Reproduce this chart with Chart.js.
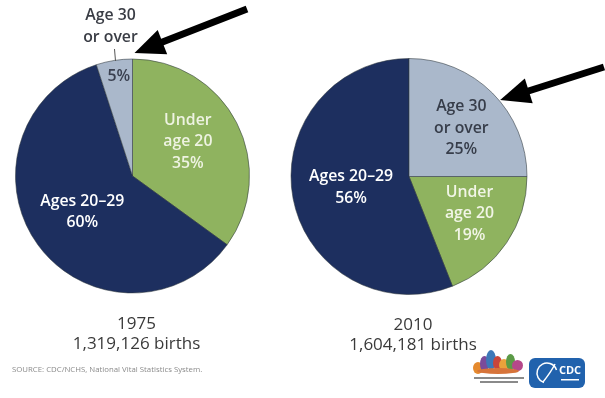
<!DOCTYPE html>
<html>
<head>
<meta charset="utf-8">
<script src="https://cdn.jsdelivr.net/npm/chart.js@4"></script>
<style>
  html, body { margin: 0; padding: 0; background: #ffffff; }
  #wrap { position: relative; width: 605px; height: 398px; overflow: hidden; }
  #wrap canvas { position: absolute; left: 0; top: 0; }
</style>
</head>
<body>
<div id="wrap">
  <canvas id="pie1975" width="605" height="398"></canvas>
  <canvas id="pie2010" width="605" height="398"></canvas>
</div>
<script>
// Births by age of mother, share of all births (%)
const ageGroups = ['Under age 20', 'Ages 20–29', 'Age 30 or over'];
const groupLines = [['Under', 'age 20'], ['Ages 20–29'], ['Age 30', 'or over']];
const share1975 = [35, 60, 5];
const share2010 = [19, 56, 25];
const years = ['1975', '2010'];
const totalBirths = [1319126, 1604181];
const sourceNote = 'SOURCE: CDC/NCHS, National Vital Statistics System.';

const sliceColors = ['#8fb35f', '#1d2f5f', '#aab8cb'];
const FONT = '"Open Sans", "Noto Sans", sans-serif';
const LABEL_FONT = '600 15.8px ' + FONT;

function fmtCount(n) { return n.toLocaleString('en-US'); }

// Places slice labels along each slice's mid-angle.
// place[i] = [radius fraction, dx, dy, colour, showName]
function sliceLabelPlugin(id, place, outside) {
  return {
    id: id,
    afterDatasetsDraw(chart) {
      const ctx = chart.ctx;
      const meta = chart.getDatasetMeta(0);
      const values = chart.data.datasets[0].data;
      ctx.save();
      ctx.textAlign = 'center';
      ctx.textBaseline = 'middle';
      meta.data.forEach((arc, i) => {
        const p = place[i];
        const mid = (arc.startAngle + arc.endAngle) / 2;
        const r = arc.outerRadius * p[0];
        const cx = arc.x + Math.cos(mid) * r + p[1];
        const cy = arc.y + Math.sin(mid) * r + p[2];
        const lines = p[4] ? groupLines[i].concat([values[i] + '%']) : [values[i] + '%'];
        const lh = 21.5;
        ctx.fillStyle = p[3];
        ctx.font = LABEL_FONT;
        lines.forEach((t, k) => {
          ctx.fillText(t, cx, cy + (k - (lines.length - 1) / 2) * lh);
        });
      });
      if (outside) outside(chart, ctx, meta);
      ctx.restore();
    }
  };
}

function drawCaption(ctx, arc, yearIdx) {
  ctx.fillStyle = '#3a3a3a';
  ctx.font = '17px ' + FONT;
  ctx.textAlign = 'center';
  ctx.textBaseline = 'middle';
  const x = arc.x + 4;
  const y0 = arc.y + arc.outerRadius + 31;
  ctx.fillText(years[yearIdx], x, y0);
  ctx.fillText(fmtCount(totalBirths[yearIdx]) + ' births', x, y0 + 20);
}

function drawArrow(ctx, x1, y1, x2, y2) {
  const ang = Math.atan2(y2 - y1, x2 - x1);
  const head = 30, half = 13;
  const bx = x2 - Math.cos(ang) * head, by = y2 - Math.sin(ang) * head;
  ctx.strokeStyle = '#000';
  ctx.fillStyle = '#000';
  ctx.lineWidth = 7;
  ctx.lineCap = 'butt';
  ctx.beginPath();
  ctx.moveTo(x1, y1);
  ctx.lineTo(bx + Math.cos(ang) * 2, by + Math.sin(ang) * 2);
  ctx.stroke();
  ctx.beginPath();
  ctx.moveTo(x2, y2);
  ctx.lineTo(bx + Math.cos(ang + Math.PI / 2) * half, by + Math.sin(ang + Math.PI / 2) * half);
  ctx.lineTo(bx - Math.cos(ang + Math.PI / 2) * half, by - Math.sin(ang + Math.PI / 2) * half);
  ctx.closePath();
  ctx.fill();
}

function drawLogos(ctx) {
  // multicolour agency mark
  const blocks = [
    [474, 362, 8, 12, '#e58a2e'], [481, 356, 7, 16, '#7b4b9a'], [487, 350, 8, 20, '#3d78b8'],
    [494, 356, 7, 14, '#c9453a'], [500, 359, 8, 12, '#e9a23b'], [507, 354, 7, 16, '#5b9a46'],
    [513, 360, 9, 11, '#b5478a'], [478, 368, 40, 6, '#d7743a']
  ];
  blocks.forEach(b => {
    ctx.fillStyle = b[4];
    ctx.beginPath();
    ctx.ellipse(b[0] + b[2] / 2, b[1] + b[3] / 2, b[2] / 2 + 1, b[3] / 2, 0, 0, Math.PI * 2);
    ctx.fill();
  });
  ctx.fillStyle = '#8a8a8a';
  ctx.fillRect(474, 377, 50, 2);
  ctx.fillRect(480, 381, 38, 2);

  // blue shield mark
  const x = 529, y = 358, w = 56, h = 30, r = 6;
  ctx.fillStyle = '#2162ad';
  ctx.beginPath();
  ctx.moveTo(x + r, y);
  ctx.arcTo(x + w, y, x + w, y + h, r);
  ctx.arcTo(x + w, y + h, x, y + h, r);
  ctx.arcTo(x, y + h, x, y, r);
  ctx.arcTo(x, y, x + w, y, r);
  ctx.closePath();
  ctx.fill();
  ctx.strokeStyle = '#ffffff';
  ctx.lineWidth = 1.5;
  ctx.beginPath();
  ctx.arc(x + 18, y + 15, 10, Math.PI * 0.6, Math.PI * 1.9);
  ctx.stroke();
  ctx.beginPath();
  ctx.moveTo(x + 14, y + 24);
  ctx.quadraticCurveTo(x + 22, y + 14, x + 26, y + 6);
  ctx.stroke();
  ctx.fillStyle = '#ffffff';
  ctx.font = 'bold 11px ' + FONT;
  ctx.textAlign = 'center';
  ctx.textBaseline = 'middle';
  ctx.fillText('CDC', x + 41, y + 13);
  ctx.fillRect(x + 32, y + 21, 18, 1.5);
}

const baseOptions = {
  responsive: false,
  animation: false,
  events: [],
  plugins: { legend: { display: false }, tooltip: { enabled: false } }
};

new Chart(document.getElementById('pie1975'), {
  type: 'pie',
  data: {
    labels: ageGroups,
    datasets: [{
      data: share1975,
      backgroundColor: sliceColors,
      borderColor: 'rgba(45,55,60,0.55)',
      borderWidth: 1
    }]
  },
  options: Object.assign({}, baseOptions, {
    rotation: 0,
    layout: { padding: { left: 15, right: 355, top: 58, bottom: 104 } }
  }),
  plugins: [sliceLabelPlugin('labels1975', [
    [0.55, -2, -5, '#eef3e2', true],
    [0.52, -1, 0, '#ffffff', true],
    [0.86, 2, 0, '#3a4050', false]
  ], (chart, ctx, meta) => {
    const arc = meta.data[2];
    // outside name for the smallest slice, with leader tick
    ctx.fillStyle = '#3a3d45';
    ctx.font = LABEL_FONT;
    ctx.textAlign = 'center';
    ctx.fillText(groupLines[2][0], arc.x - 22, 15);
    ctx.fillText(groupLines[2][1], arc.x - 22, 37);
    ctx.strokeStyle = '#555';
    ctx.lineWidth = 1;
    ctx.beginPath();
    ctx.moveTo(arc.x - 18, 49);
    ctx.lineTo(arc.x - 17, arc.y - arc.outerRadius + 2);
    ctx.stroke();
    drawArrow(ctx, 247, 9, arc.x + 2, arc.y - arc.outerRadius - 6);
    drawCaption(ctx, arc, 0);
    ctx.fillStyle = '#8a8a8a';
    ctx.font = '7.8px ' + FONT;
    ctx.textAlign = 'left';
    ctx.fillText(sourceNote, 12, 370);
  })]
});

new Chart(document.getElementById('pie2010'), {
  type: 'pie',
  data: {
    labels: ageGroups,
    datasets: [{
      data: share2010,
      backgroundColor: sliceColors,
      borderColor: 'rgba(45,55,60,0.55)',
      borderWidth: 1
    }]
  },
  options: Object.assign({}, baseOptions, {
    rotation: 90,
    layout: { padding: { left: 290, right: 77, top: 58, bottom: 103 } }
  }),
  plugins: [sliceLabelPlugin('labels2010', [
    [0.62, 0, -4, '#f1f5e6', true],
    [0.5, 0, 0, '#ffffff', true],
    [0.58, 4, 0, '#373d4a', true]
  ], (chart, ctx, meta) => {
    const arc = meta.data[0];
    const a = -40 * Math.PI / 180;
    drawArrow(ctx, 604, 67,
      arc.x + Math.cos(a) * (arc.outerRadius + 1),
      arc.y + Math.sin(a) * (arc.outerRadius + 1));
    drawCaption(ctx, arc, 1);
    drawLogos(ctx);
  })]
});
</script>
</body>
</html>
